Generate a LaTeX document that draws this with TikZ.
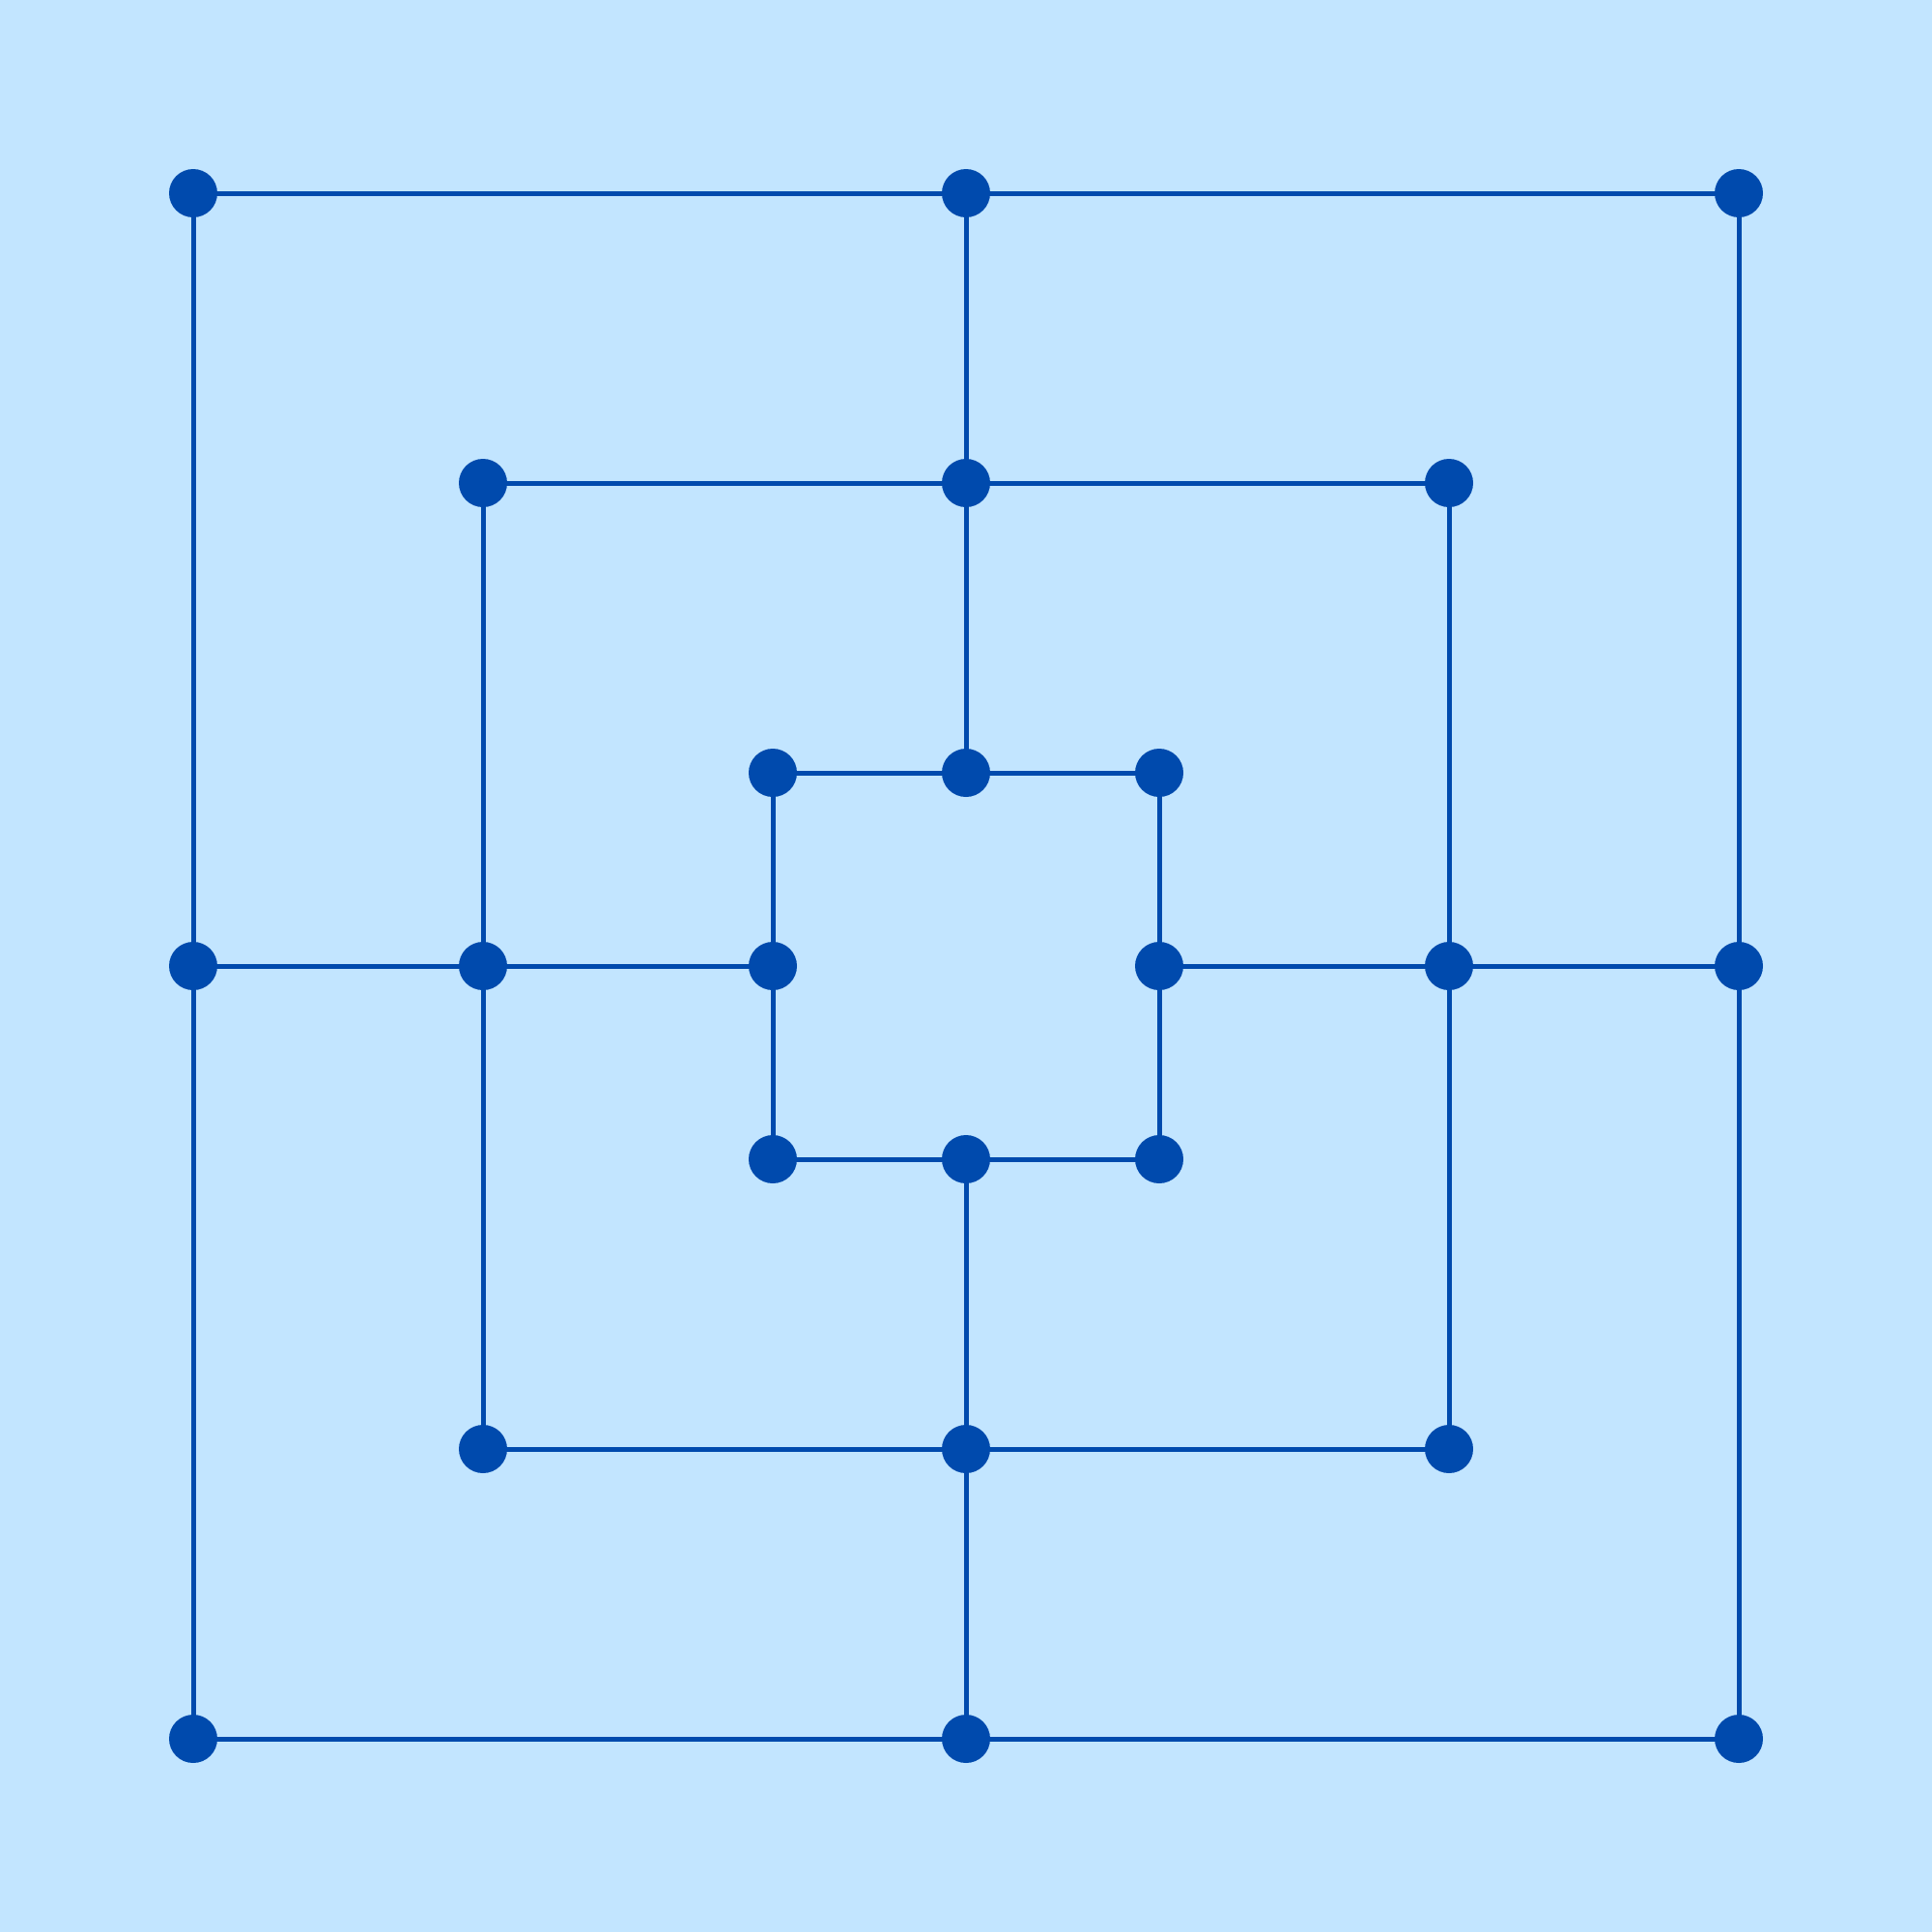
\documentclass[tikz,border=0pt]{standalone}
\definecolor{bg}{HTML}{C2E5FF}
\definecolor{ink}{HTML}{004AAD}
\begin{document}
\begin{tikzpicture}[x=1cm,y=-1cm,
  pt/.style={circle,fill=ink,inner sep=0pt,outer sep=0pt,minimum size=0.5cm},
  ln/.style={draw=ink,line width=0.05cm,shorten <=-0.02cm,shorten >=-0.02cm}]
\fill[bg] (0,0) rectangle (20,20);
\useasboundingbox (0,0) rectangle (20,20);
% outer
\node[pt] (a1) at (2,2) {};
\node[pt] (a2) at (10,2) {};
\node[pt] (a3) at (18,2) {};
\node[pt] (a4) at (18,10) {};
\node[pt] (a5) at (18,18) {};
\node[pt] (a6) at (10,18) {};
\node[pt] (a7) at (2,18) {};
\node[pt] (a8) at (2,10) {};
% middle
\node[pt] (b1) at (5,5) {};
\node[pt] (b2) at (10,5) {};
\node[pt] (b3) at (15,5) {};
\node[pt] (b4) at (15,10) {};
\node[pt] (b5) at (15,15) {};
\node[pt] (b6) at (10,15) {};
\node[pt] (b7) at (5,15) {};
\node[pt] (b8) at (5,10) {};
% inner
\node[pt] (c1) at (8,8) {};
\node[pt] (c2) at (10,8) {};
\node[pt] (c3) at (12,8) {};
\node[pt] (c4) at (12,10) {};
\node[pt] (c5) at (12,12) {};
\node[pt] (c6) at (10,12) {};
\node[pt] (c7) at (8,12) {};
\node[pt] (c8) at (8,10) {};
\foreach \r in {a,b,c}{
  \draw[ln] (\r1) -- (\r2);
  \draw[ln] (\r2) -- (\r3);
  \draw[ln] (\r3) -- (\r4);
  \draw[ln] (\r4) -- (\r5);
  \draw[ln] (\r5) -- (\r6);
  \draw[ln] (\r6) -- (\r7);
  \draw[ln] (\r7) -- (\r8);
  \draw[ln] (\r8) -- (\r1);
}
\draw[ln] (a2) -- (b2);
\draw[ln] (b2) -- (c2);
\draw[ln] (a4) -- (b4);
\draw[ln] (b4) -- (c4);
\draw[ln] (a6) -- (b6);
\draw[ln] (b6) -- (c6);
\draw[ln] (a8) -- (b8);
\draw[ln] (b8) -- (c8);
\end{tikzpicture}
\end{document}
